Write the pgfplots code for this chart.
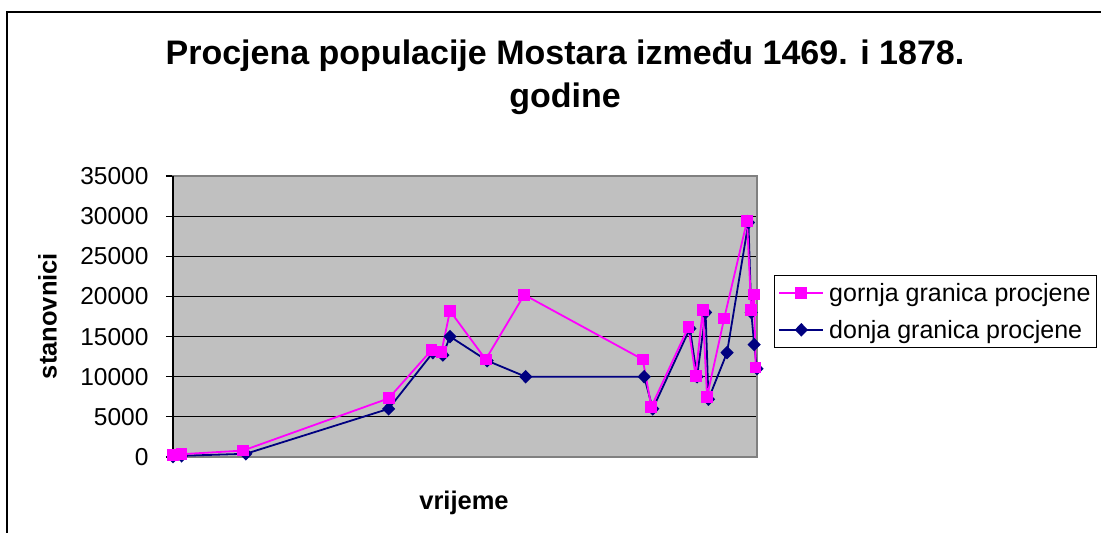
\documentclass[border=0pt]{standalone}
\usepackage{fontspec}
\setmainfont{Liberation Sans}
\usepackage{pgfplots}
\pgfplotsset{compat=1.18}
\definecolor{mag}{RGB}{255,0,255}
\definecolor{nav}{RGB}{0,0,128}
\definecolor{plotgray}{RGB}{192,192,192}
\definecolor{bordergray}{RGB}{128,128,128}
\begin{document}
\begin{tikzpicture}[x=1pt,y=1pt]
\path[use as bounding box] (0,0) rectangle (1101,533);
\draw[line width=1.5pt] (7,0) -- (7,521) -- (1101,521);
\node[font=\bfseries\fontsize{34}{40}\selectfont, anchor=base] at (565,468) {Procjena populacije Mostara između 1469. i 1878.};
\node[font=\bfseries\fontsize{34}{40}\selectfont, anchor=base] at (565,425) {godine};
\node[font=\bfseries\fontsize{25.5}{30}\selectfont, rotate=90, anchor=center] at (47.5,217) {stanovnici};
\node[font=\bfseries\fontsize{25.5}{30}\selectfont, anchor=base] at (464,23) {vrijeme};
\begin{axis}[
  at={(173pt,76pt)}, anchor=south west,
  scale only axis, width=584pt, height=281pt,
  xmin=1469, xmax=1878, ymin=0, ymax=35000,
  xtick=\empty,
  ytick={0,5000,10000,15000,20000,25000,30000,35000},
  yticklabels={0,5000,10000,15000,20000,25000,30000,35000},
  scaled y ticks=false,
  ytick pos=left, tick align=outside,
  major tick length=7pt,
  major tick style={black, line width=1.2pt},
  tick label style={font=\fontsize{24.5}{28}\selectfont},
  yticklabel style={xshift=-14pt},
  axis background/.style={fill=plotgray},
  ymajorgrids, grid style={black, line width=1.2pt},
  axis line style={draw=bordergray, line width=1.5pt},
  clip=false,
  legend style={at={(1.029,0.648)}, anchor=north west, draw=black, line width=1pt, fill=white,
    font=\fontsize{25}{30}\selectfont, cells={anchor=west}, row sep=13pt, inner xsep=4pt, inner ysep=6pt,
    /tikz/every odd column/.append style={column sep=3pt}},
  legend image code/.code={\draw[mark repeat=2,mark phase=2] plot coordinates {(0pt,0pt) (22pt,0pt) (44pt,0pt)};},
  reverse legend,
]
\addplot[nav, line width=1.8pt, mark=diamond*, mark size=5.5pt, mark options={solid, xscale=1.3}] coordinates {
(1469,50) (1475,150) (1520,400) (1620,6000) (1651,13000) (1658,12700) (1663,15000) (1689,12000) (1716,10000)
(1799,10000) (1805,6000) (1831,16000) (1836,10000) (1842,18000) (1844,7200) (1857,13000) (1872,29200)
(1874,18000) (1876,14000) (1878,11000)
};
\addlegendentry{donja granica procjene}
\addplot[mag, line width=1.8pt, mark=square*, mark size=5pt, mark options={solid}] coordinates {
(1469,250) (1475,350) (1518,800) (1620,7300) (1650,13300) (1657,13100) (1663,18200) (1688,12150) (1715,20200)
(1798,12150) (1804,6250) (1830,16200) (1835,10100) (1840,18300) (1843,7500) (1855,17250) (1871,29400)
(1874,18300) (1876,20250) (1877,11150)
};
\addlegendentry{gornja granica procjene}
\draw[black, line width=1.5pt] (rel axis cs:0,0) -- (rel axis cs:0,1);
\end{axis}
\end{tikzpicture}
\end{document}
